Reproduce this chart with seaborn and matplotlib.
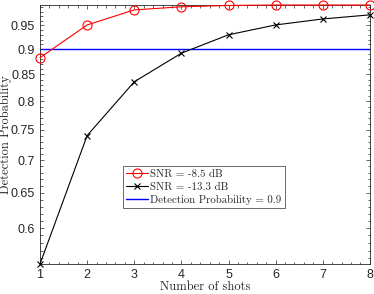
import matplotlib
matplotlib.use("Agg")
import matplotlib.pyplot as plt
import matplotlib.ticker as mticker
import numpy as np
import pandas as pd
import seaborn as sb

# data
shots = [1, 2, 3, 4, 5, 6, 7, 8]
pd_snr_85 = [0.883, 0.951, 0.984, 0.991, 0.994, 0.995, 0.995, 0.995]
pd_snr_133 = [0.553, 0.740, 0.836, 0.892, 0.930, 0.951, 0.964, 0.973]
pd_target = 0.9
ytick_vals = [0.6, 0.65, 0.7, 0.75, 0.8, 0.85, 0.9, 0.95]
series_labels = ["SNR = -8.5 dB", "SNR = -13.3 dB", "Detection Probability = 0.9"]

sb.set_style("ticks")
plt.rcParams["font.family"] = ["Liberation Sans", "DejaVu Sans"]
serif = ["cmr10", "DejaVu Serif"]

df = pd.DataFrame({"shots": shots, "a": pd_snr_85, "b": pd_snr_133})

fig = plt.figure(figsize=(3.74, 2.94), dpi=100)
ax = fig.add_axes([0.107, 0.102, 0.882, 0.881])

sb.lineplot(data=df, x="shots", y="a", ax=ax, color="red", lw=0.8,
            marker="o", markersize=6.5, markerfacecolor="none",
            markeredgecolor="red", markeredgewidth=0.8, label=series_labels[0],
            clip_on=False, zorder=3)
sb.lineplot(data=df, x="shots", y="b", ax=ax, color="black", lw=0.8,
            marker="x", markersize=5, markeredgecolor="black",
            markeredgewidth=0.8, label=series_labels[1], clip_on=False, zorder=3)
ax.axhline(pd_target, color="#0000ff", lw=1.0, label=series_labels[2])

ax.set_yscale("log")
ax.set_xlim(1, 8)
ax.set_ylim(min(pd_snr_133), max(pd_snr_85))
ax.yaxis.set_major_locator(mticker.FixedLocator(ytick_vals))
ax.yaxis.set_major_formatter(mticker.FixedFormatter([f"{v:g}" for v in ytick_vals]))
ax.yaxis.set_minor_locator(mticker.FixedLocator(np.arange(0.55, 1.0, 0.01)))
ax.yaxis.set_minor_formatter(mticker.NullFormatter())
ax.xaxis.set_major_locator(mticker.MultipleLocator(1))
ax.xaxis.set_minor_locator(mticker.MultipleLocator(0.2))

gray = "#262626"
for s in ax.spines.values():
    s.set_color(gray)
    s.set_linewidth(0.6)
    s.set_visible(True)
ax.tick_params(which="both", direction="in", top=True, right=True, color=gray,
               width=0.5, labelsize=9, labelcolor=gray, pad=3.5)
ax.tick_params(which="major", length=3)
ax.tick_params(which="minor", length=1.8)

ax.set_xlabel("Number of shots", family=serif, fontsize=9, labelpad=0)
ax.set_ylabel("Detection Probability", family=serif, fontsize=9)
ax.yaxis.set_label_coords(-0.086, 0.5)

leg = ax.legend(loc="lower left", bbox_to_anchor=(0.252, 0.216),
                prop={"family": serif, "size": 7.8}, frameon=True, fancybox=False,
                borderpad=0.3, labelspacing=0.28, handlelength=2.0,
                handletextpad=0.2, borderaxespad=0)
leg.get_frame().set_edgecolor(gray)
leg.get_frame().set_linewidth(0.6)

fig.savefig("out.png", dpi=100)
